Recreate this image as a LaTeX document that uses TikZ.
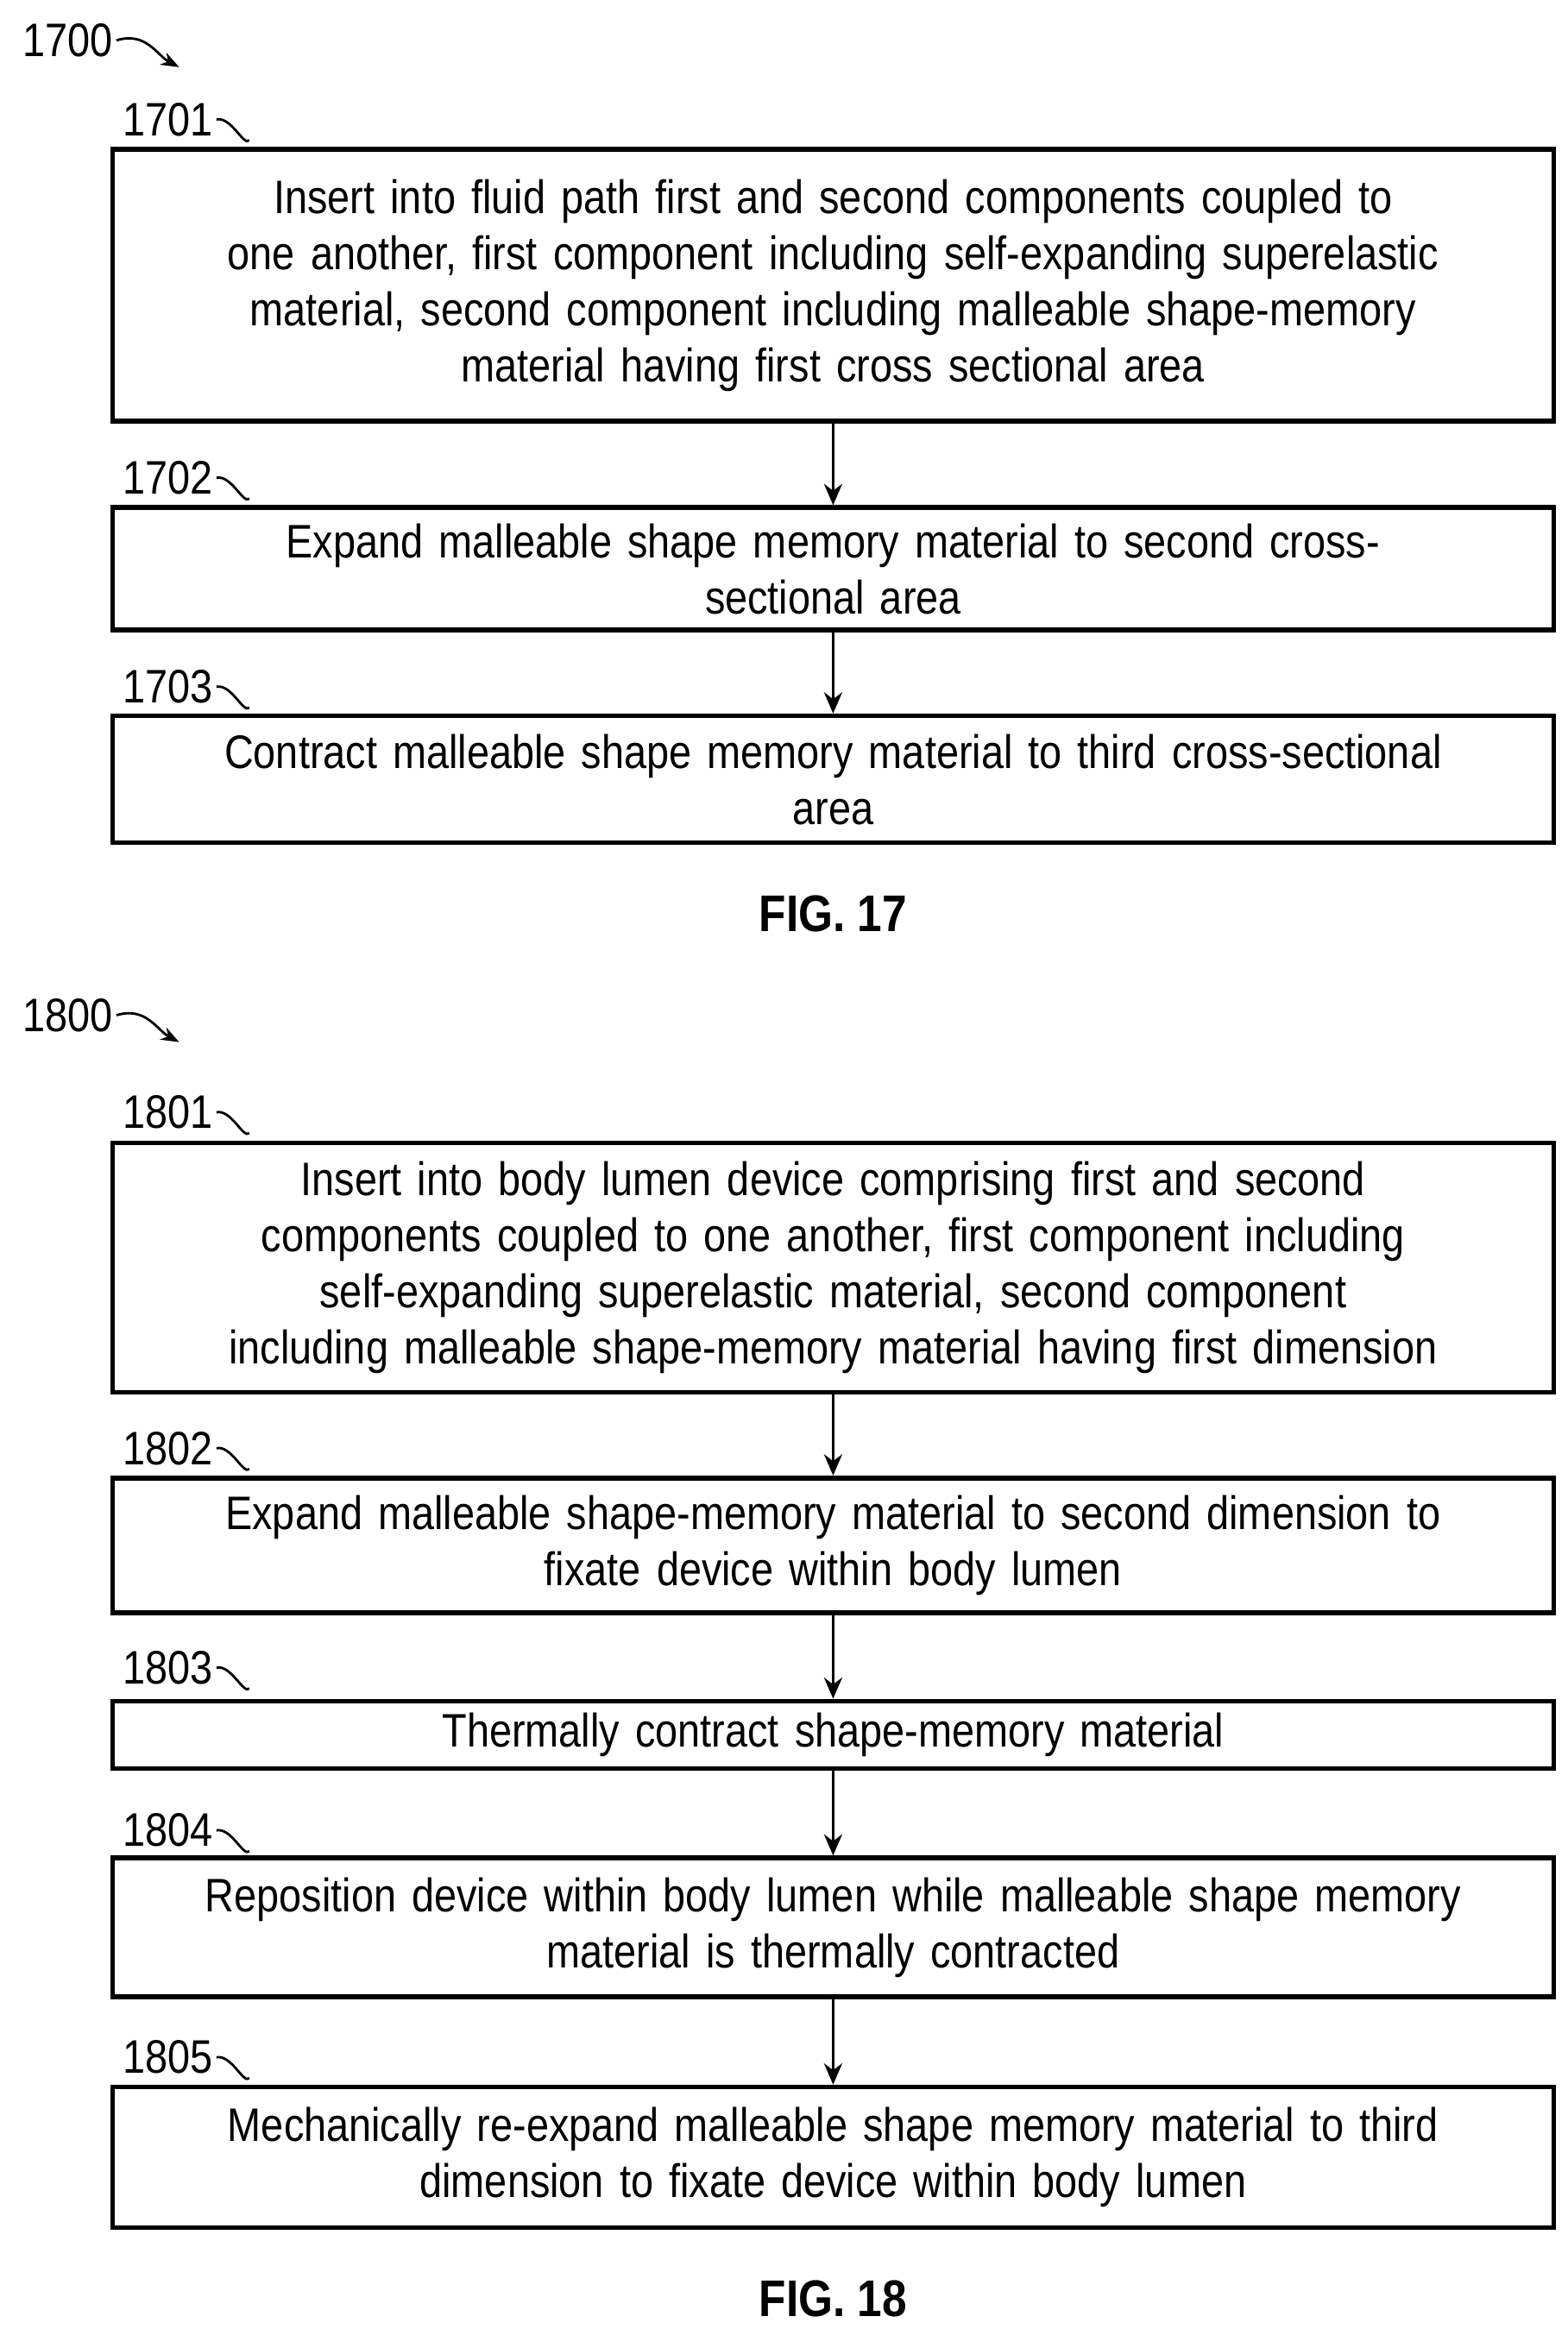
\documentclass[tikz,border=0pt]{standalone}
\usepackage{fontspec}
\setmainfont{Liberation Sans}[FakeStretch=0.86]
\usetikzlibrary{arrows.meta,positioning}
\tikzset{
  stepbox/.style={draw,line width=1.6pt,minimum width=16.70cm,align=center,
    text width=16.6cm,inner sep=0pt,font=\fontsize{15.5}{18.5}\selectfont},
  flow/.style={-{Stealth[length=7pt,width=6pt]},line width=0.9pt},
  refnum/.style={font=\fontsize{15.5}{17}\selectfont,anchor=east,inner sep=1pt},
  figlabel/.style={font=\bfseries\fontsize{17}{18}\selectfont}
}
\newcommand{\tagline}[3]{%
  \node[refnum] (#1) at (#2) {#3};
  \draw[line width=0.8pt] (#1.east) .. controls +(10,-2) and +(-4,4) .. +(22,14);}
\begin{document}
\begin{tikzpicture}[x=0.017305cm,y=-0.017305cm]
  \useasboundingbox (0,0) rectangle (1050,1560);
  % FIG. 17
  \node[refnum] (n1700) at (78,27) {1700};
  \draw[-{Stealth[length=6pt]},line width=0.8pt] (n1700.east) .. controls +(20,-6) and +(-15,-8) .. +(42,18);
  \node[stepbox,minimum height=3.15cm] (s1701) at (558,191) {Insert into fluid path first and second components coupled to\\one another, first component including self-expanding superelastic\\material, second component including malleable shape-memory\\material having first cross sectional area};
  \node[stepbox,minimum height=1.42cm] (s1702) at (558,381) {Expand malleable shape memory material to second cross-\\sectional area};
  \node[stepbox,minimum height=1.47cm] (s1703) at (558,522) {Contract malleable shape memory material to third cross-sectional\\area};
  \tagline{t1701}{145,80}{1701}
  \tagline{t1702}{145,320}{1702}
  \tagline{t1703}{145,460}{1703}
  \draw[flow] (s1701) -- (s1702);
  \draw[flow] (s1702) -- (s1703);
  \node[figlabel] (fig17) at (558,612) {FIG. 17};
  % FIG. 18
  \node[refnum] (n1800) at (78,680) {1800};
  \draw[-{Stealth[length=6pt]},line width=0.8pt] (n1800.east) .. controls +(20,-6) and +(-15,-8) .. +(42,18);
  \node[stepbox,minimum height=2.89cm] (s1801) at (558,849) {Insert into body lumen device comprising first and second\\components coupled to one another, first component including\\self-expanding superelastic material, second component\\including malleable shape-memory material having first dimension};
  \node[stepbox,minimum height=1.56cm] (s1802) at (558,1035) {Expand malleable shape-memory material to second dimension to\\fixate device within body lumen};
  \node[stepbox,minimum height=0.78cm] (s1803) at (558,1162) {Thermally contract shape-memory material};
  \node[stepbox,minimum height=1.61cm] (s1804) at (558,1291) {Reposition device within body lumen while malleable shape memory\\material is thermally contracted};
  \node[stepbox,minimum height=1.63cm] (s1805) at (558,1445) {Mechanically re-expand malleable shape memory material to third\\dimension to fixate device within body lumen};
  \tagline{t1801}{145,745}{1801}
  \tagline{t1802}{145,970}{1802}
  \tagline{t1803}{145,1117}{1803}
  \tagline{t1804}{145,1226}{1804}
  \tagline{t1805}{145,1378}{1805}
  \draw[flow] (s1801) -- (s1802);
  \draw[flow] (s1802) -- (s1803);
  \draw[flow] (s1803) -- (s1804);
  \draw[flow] (s1804) -- (s1805);
  \node[figlabel] (fig18) at (558,1540) {FIG. 18};
\end{tikzpicture}
\end{document}
